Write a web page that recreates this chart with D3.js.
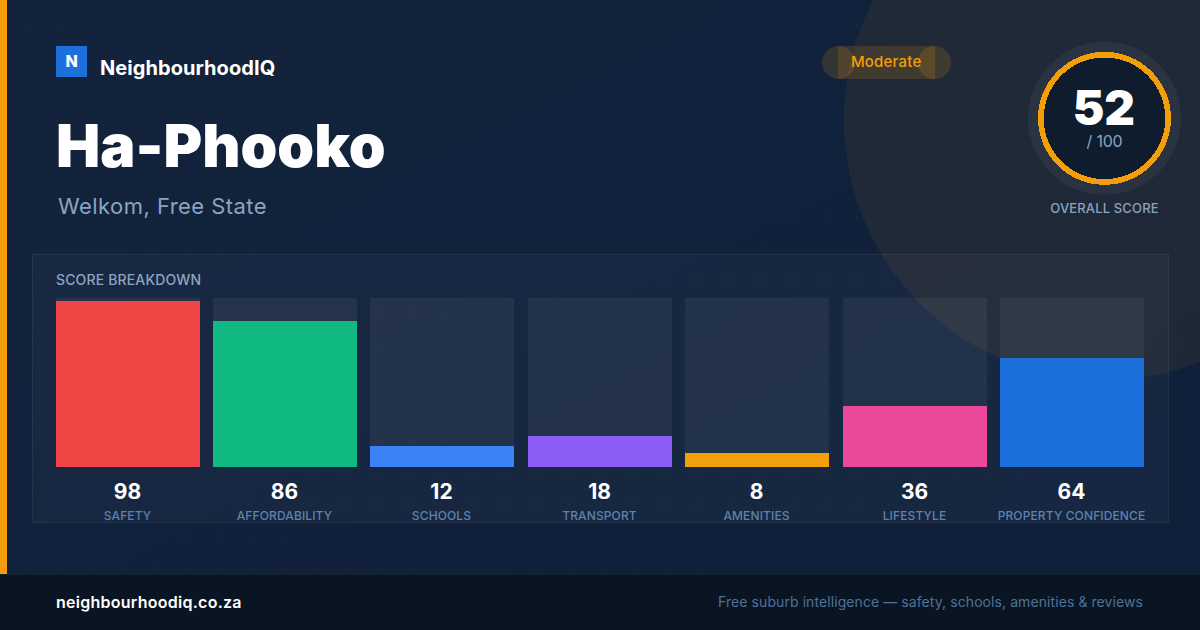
<!DOCTYPE html>
<html>
<head>
<meta charset="utf-8">
<script src="https://cdn.jsdelivr.net/npm/d3@7"></script>
<style>
   html, body { margin: 0; padding: 0; background: #11213b; overflow: hidden; }
   svg { display: block; }
   text { font-family: Inter, "Noto Sans", sans-serif; }
</style>
</head>
<body>
<svg id="card" width="1200" height="630"></svg>
<script>
const categories = ['SAFETY', 'AFFORDABILITY', 'SCHOOLS', 'TRANSPORT', 'AMENITIES', 'LIFESTYLE', 'PROPERTY CONFIDENCE'];
const scores = [98, 86, 12, 18, 8, 36, 64];
const barColors = ['#f24646', '#10b981', '#3b82f6', '#8b5cf6', '#f59e0b', '#ec4899', '#1d6fdc'];
const overallScore = 52;

const svg = d3.select('#card');
const width = 1200, height = 630, footerTop = 574;
const muted = '#8aa4c2';

let defs = svg.append('defs');

let bg = defs.append('linearGradient').attr('id', 'bg')
   .attr('x1', 0).attr('y1', 0).attr('x2', 1).attr('y2', 1);
bg.append('stop').attr('offset', 0).attr('stop-color', '#13233c');
bg.append('stop').attr('offset', 1).attr('stop-color', '#0e1f3a');

let dots = defs.append('pattern').attr('id', 'dots')
   .attr('width', 32).attr('height', 32).attr('patternUnits', 'userSpaceOnUse');
dots.append('circle').attr('cx', 24.5).attr('cy', 24.5).attr('r', 1)
   .attr('fill', 'rgba(255,255,255,0.035)');

svg.append('rect').attr('width', width).attr('height', height).attr('fill', 'url(#bg)');
svg.append('rect').attr('width', width).attr('height', height).attr('fill', 'url(#dots)');

// big amber tinted disc behind the score
svg.append('circle').attr('cx', 1104).attr('cy', 120).attr('r', 260)
   .attr('fill', 'rgba(245,158,11,0.07)');

// accent strip
svg.append('rect').attr('width', 7).attr('height', footerTop).attr('fill', '#f59e0b');

// logo
svg.append('rect').attr('x', 56).attr('y', 46).attr('width', 31).attr('height', 31).attr('fill', '#1d6fdc');
svg.append('text').attr('x', 71.5).attr('y', 67).attr('text-anchor', 'middle')
   .attr('font-size', 16).attr('font-weight', 800).attr('fill', '#fff').text('N');
svg.append('text').attr('x', 100).attr('y', 75).attr('font-size', 20).attr('font-weight', 700)
   .attr('letter-spacing', 0.07).attr('fill', '#fff').text('NeighbourhoodIQ');

svg.append('text').attr('x', 56).attr('y', 167).attr('font-size', 59).attr('font-weight', 900)
   .attr('fill', '#fff').text('Ha-Phooko');
svg.append('text').attr('x', 58).attr('y', 214).attr('font-size', 22).attr('font-weight', 400)
   .attr('letter-spacing', 0.45).attr('fill', muted).text('Welkom, Free State');

// rating pill, the caps overlap the middle so the alpha doubles up
let pill = svg.append('g').attr('fill', 'rgba(245,158,11,0.15)');
pill.append('circle').attr('cx', 838.5).attr('cy', 62.5).attr('r', 16.5);
pill.append('circle').attr('cx', 934.5).attr('cy', 62.5).attr('r', 16.5);
pill.append('rect').attr('x', 838).attr('y', 46).attr('width', 97).attr('height', 33);
svg.append('text').attr('x', 886.2).attr('y', 67).attr('text-anchor', 'middle')
   .attr('font-size', 15).attr('font-weight', 500).attr('letter-spacing', 0.2)
   .attr('fill', '#f59e0b').text('Moderate');

// score ring
let ring = svg.append('g').attr('transform', 'translate(1104.5,118.3)');
ring.append('circle').attr('r', 76.5).attr('fill', 'rgba(255,255,255,0.05)');
ring.append('circle').attr('r', 66.5).attr('fill', '#f59e0b').attr('shape-rendering', 'crispEdges');
ring.append('circle').attr('r', 60.8).attr('fill', '#0f1c2e').attr('shape-rendering', 'crispEdges');
ring.append('text').attr('x', -0.6).attr('y', 7).attr('text-anchor', 'middle').attr('font-size', 47.5).attr('font-weight', 900)
   .attr('fill', '#fff').text(overallScore);
ring.append('text').attr('y', 28.5).attr('text-anchor', 'middle').attr('font-size', 16)
   .attr('letter-spacing', -0.2).attr('fill', muted).text('/ 100');
svg.append('text').attr('x', 1104.5).attr('y', 213).attr('text-anchor', 'middle').attr('font-size', 13)
   .attr('font-weight', 500).attr('letter-spacing', 0.15).attr('fill', muted).text('OVERALL SCORE');

// breakdown panel
svg.append('rect').attr('x', 32.5).attr('y', 254.5).attr('width', 1136).attr('height', 268)
   .attr('fill', 'rgba(255,255,255,0.03)').attr('stroke', 'rgba(255,255,255,0.07)');
svg.append('text').attr('x', 56).attr('y', 285).attr('font-size', 14).attr('font-weight', 500)
   .attr('letter-spacing', 0.15).attr('fill', muted).text('SCORE BREAKDOWN');

const x = d3.scaleBand().domain(categories).range([56, 1144.4]).paddingInner(0.08513);
const y = d3.scaleLinear().domain([0, 100]).range([467, 298]);
// the reference snaps bars to whole pixels
const barX = d => Math.floor(x(d) + 0.05);
const barY = v => Math.floor(y(v));

let cols = svg.append('g').selectAll('g').data(categories).enter().append('g');

cols.append('rect')
   .attr('x', barX).attr('y', y(100))
   .attr('width', 144).attr('height', y(0) - y(100))
   .attr('fill', 'rgba(255,255,255,0.055)');
cols.append('rect')
   .attr('x', barX).attr('y', (d, i) => barY(scores[i]))
   .attr('width', 144).attr('height', (d, i) => y(0) - barY(scores[i]))
   .attr('fill', (d, i) => barColors[i]);
cols.append('text')
   .attr('x', d => barX(d) + 71.5).attr('y', 499)
   .attr('text-anchor', 'middle').attr('font-size', 21).attr('font-weight', 700)
   .attr('fill', '#fff').text((d, i) => scores[i]);
cols.append('text')
   .attr('x', d => barX(d) + 71.5).attr('y', 520)
   .attr('text-anchor', 'middle').attr('font-size', 12).attr('font-weight', 500)
   .attr('letter-spacing', 0.12).attr('fill', '#5f82ab').text(d => d);

// footer
svg.append('rect').attr('y', footerTop).attr('width', width).attr('height', height - footerTop).attr('fill', '#0a1523');
svg.append('line').attr('x1', 0).attr('x2', width).attr('y1', footerTop + 0.5).attr('y2', footerTop + 0.5)
   .attr('stroke', 'rgba(255,255,255,0.05)');
svg.append('text').attr('x', 56).attr('y', 608).attr('font-size', 16).attr('font-weight', 600)
   .attr('letter-spacing', 0.26).attr('fill', '#fff').text('neighbourhoodiq.co.za');
svg.append('text').attr('x', 1143).attr('y', 607).attr('text-anchor', 'end').attr('font-size', 14)
   .attr('letter-spacing', 0.08).attr('fill', '#4f7299').text('Free suburb intelligence — safety, schools, amenities & reviews');
</script>
</body>
</html>
